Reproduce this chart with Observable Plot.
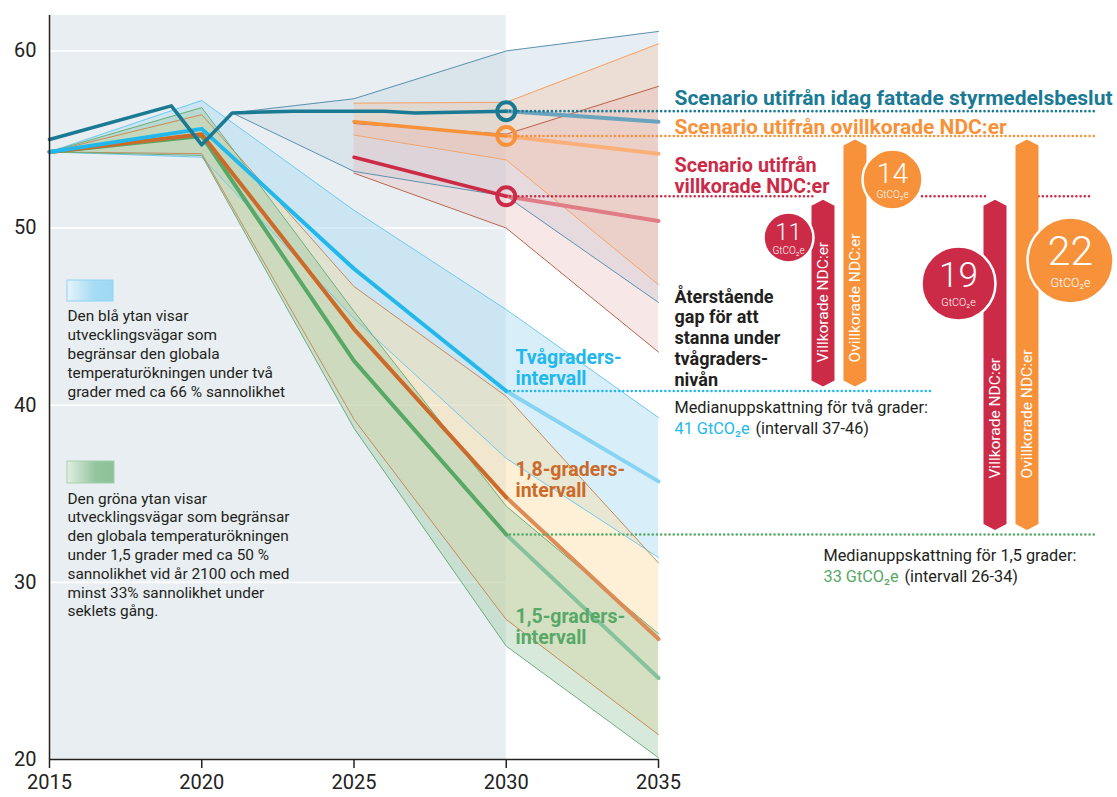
<!DOCTYPE html>
<html><head><meta charset="utf-8">
<script src="https://cdn.jsdelivr.net/npm/d3@7"></script>
<script src="https://cdn.jsdelivr.net/npm/@observablehq/plot@0.6"></script>
<style>
html,body{margin:0;padding:0;background:#fff;}
#chart{width:1117px;height:797px;}
</style></head><body><div id="chart"></div>
<script>
// ---------- data ----------
const years   = [2015, 2020, 2025, 2030, 2035];
const twoLow  = [54.3, 54.0, 44.9, 37.0, 31.4];
const twoMed  = [54.3, 55.6, 47.7, 40.8, 35.7];
const twoHigh = [54.3, 57.2, 51.0, 45.4, 39.3];
const c18Low  = [54.3, 54.2, 39.2, 27.9, 21.4];
const c18Med  = [54.3, 55.3, 44.3, 34.8, 26.8];
const c18High = [54.3, 56.4, 46.7, 40.5, 31.1];
const c15Low  = [54.3, 54.1, 38.7, 26.4, 20.1];
const c15Med  = [54.3, 55.2, 42.5, 32.7, 24.6];
const c15High = [54.3, 56.8, 45.3, 34.3, 27.1];

const policyYears  = [2015, 2019, 2020, 2021, 2023, 2026, 2027, 2030, 2035];
const policyValues = [55.0, 56.9, 54.7, 56.5, 56.6, 56.6, 56.5, 56.6, 56.0];
const policyBandYears = [2021, 2025, 2030, 2035];
const policyLow  = [56.5, 53.2, 51.8, 45.8];
const policyHigh = [56.5, 57.3, 60.0, 61.1];

const ndcYears   = [2025, 2030, 2035];
const uncondMed  = [56.0, 55.2, 54.2];
const uncondLow  = [55.25, 53.85, 46.8];
const uncondHigh = [57.05, 57.1, 60.4];
const condMed    = [54.0, 51.8, 50.4];
const condLow    = [53.1, 50.0, 43.0];
const condHigh   = [55.9, 55.3, 58.0];

const gapValues = [11, 14, 19, 22];
const gapKinds  = ["Villkorade NDC:er", "Ovillkorade NDC:er", "Villkorade NDC:er", "Ovillkorade NDC:er"];
const gapTargets = ["two", "two", "c15", "c15"];

const xTicks = [2015, 2020, 2025, 2030, 2035];
const yTicks = [20, 30, 40, 50, 60];

// ---------- layout ----------
const W = 1117, H = 797, ML = 49, MR = 459, MT = 15, MB = 38;
const X0 = 2015, X1 = 2035, Y0 = 20, Y1 = 62;
const pxX = (W - ML - MR) / (X1 - X0), pxY = (H - MT - MB) / (Y1 - Y0);
const px2x = px => X0 + (px - ML) / pxX;
const px2y = py => Y1 - (py - MT) / pxY;
const FONT = "Roboto, 'Noto Sans', sans-serif";
const C = {
  bg: "#e8eef1", teal: "#1a7a94", tealLight: "#6aa3bd", tealEdge: "#5d92ad",
  orange: "#f7923a", orangeLight: "#fbb07a", red: "#cc2b47", redLight: "#e07c86",
  blue: "#22b8ec", blueLight: "#86d3f3", blueEdge: "#6fcaf0",
  brown: "#cc6a2a", brownLight: "#dc8d57", brownEdge: "#c98a5a",
  green: "#58a867", greenLight: "#86c29c", greenEdge: "#6eae7c",
  text: "#231f20"
};
const barPx = [823, 855, 995, 1027];
const barLabelPx = [362, 362, 478, 478];
const bubblePx = [[788, 237, 25], [892, 179, 30], [958, 283, 37], [1070, 260, 43]];

// ---------- derived tables ----------
const rows = (xs, cols) => xs.map((x, i) => { const r = {x}; for (const k in cols) r[k] = cols[k][i]; return r; });
const two = rows(years, {lo: twoLow, med: twoMed, hi: twoHigh});
const c18 = rows(years, {lo: c18Low, med: c18Med, hi: c18High});
const c15 = rows(years, {lo: c15Low, med: c15Med, hi: c15High});
const pol = rows(policyYears, {v: policyValues});
const polBand = rows(policyBandYears, {lo: policyLow, hi: policyHigh});
const unc = rows(ndcYears, {lo: uncondLow, med: uncondMed, hi: uncondHigh});
const con = rows(ndcYears, {lo: condLow, med: condMed, hi: condHigh});
const upTo2030 = d => d.x <= 2030, from2030 = d => d.x >= 2030;

const v2030 = (tbl, key) => tbl.find(d => d.x === 2030)[key];
const lvlPolicy = v2030(pol, "v"), lvlUnc = v2030(unc, "med"), lvlCon = v2030(con, "med");
const lvlTwo = v2030(two, "med"), lvlC15 = v2030(c15, "med");

// gap bars (hexagon-ended) built from data tops/bottoms
const barShape = [];
const barLabels = [];
gapValues.forEach((g, i) => {
  const top = gapKinds[i].startsWith("Ovill") ? lvlUnc : lvlCon;
  const bottom = gapTargets[i] === "two" ? lvlTwo : lvlC15;
  const xc = px2x(barPx[i]), hw = 11.5 / pxX;
  const tip = 4 / pxY, sh = 6 / pxY;
  const fill = gapKinds[i].startsWith("Ovill") ? C.orange : C.red;
  [[xc - hw, bottom + tip + sh, top - tip - sh], [xc, bottom + tip, top - tip], [xc + hw, bottom + tip + sh, top - tip - sh]]
    .forEach(([x, y1, y2]) => barShape.push({id: i, x, y1, y2, fill}));
  barLabels.push({x: xc, y: px2y(barLabelPx[i]), text: gapKinds[i]});
});
const bubbles = gapValues.map((g, i) => ({
  x: px2x(bubblePx[i][0]), y: px2y(bubblePx[i][1]), r: bubblePx[i][2], value: g,
  fill: gapKinds[i].startsWith("Ovill") ? C.orange : C.red,
  ny: px2y(bubblePx[i][1] - 0.2 * bubblePx[i][2]), uy: px2y(bubblePx[i][1] + 0.52 * bubblePx[i][2]),
  nfs: 0.95 * bubblePx[i][2], ufs: Math.max(10, 0.29 * bubblePx[i][2])
}));

const dots = {strokeDasharray: "0,4.2", strokeLinecap: "round", strokeWidth: 2.6};

const chart = Plot.plot({
  width: W, height: H,
  marginLeft: ML, marginRight: MR, marginTop: MT, marginBottom: MB,
  x: {domain: [X0, X1]},
  y: {domain: [Y0, Y1]},
  r: {type: "identity"},
  style: {fontFamily: FONT, fontSize: "20px", color: C.text, background: "transparent"},
  marks: [
    // background panel + gridlines
    Plot.rect([{}], {x1: 2015, x2: 2030, y1: Y0, y2: Y1, fill: C.bg}),
    Plot.ruleY(yTicks.filter(t => t > Y0), {x1: 2015, x2: 2030, stroke: "#fff", strokeWidth: 1.6}),

    // policy and NDC uncertainty bands
    Plot.areaY(polBand, {x: "x", y1: "lo", y2: "hi", fill: "#c8d6e4", fillOpacity: 0.45}),
    Plot.areaY(unc, {x: "x", y1: "lo", y2: "hi", fill: "#f6c49a", fillOpacity: 0.35}),
    Plot.areaY(con, {x: "x", y1: "lo", y2: "hi", fill: "#e9aeae", fillOpacity: 0.3}),

    // temperature pathway bands
    Plot.areaY(two, {x: "x", y1: "lo", y2: "hi", fill: "#a9dbf5", fillOpacity: 0.45}),
    Plot.areaY(c18, {x: "x", y1: "lo", y2: "hi", fill: "#fcdc9e", fillOpacity: 0.42}),
    Plot.areaY(c15, {x: "x", y1: "lo", y2: "hi", fill: "#9dcaa6", fillOpacity: 0.42}),

    // band edges
    ...[[two, C.blueEdge], [c18, C.brownEdge], [c15, C.greenEdge]].flatMap(([t, c]) => [
      Plot.line(t, {x: "x", y: "lo", stroke: c, strokeWidth: 1}),
      Plot.line(t, {x: "x", y: "hi", stroke: c, strokeWidth: 1})
    ]),
    Plot.line(polBand, {x: "x", y: "lo", stroke: C.tealEdge, strokeWidth: 1}),
    Plot.line(polBand, {x: "x", y: "hi", stroke: C.tealEdge, strokeWidth: 1}),
    Plot.line(unc, {x: "x", y: "lo", stroke: "#f4a368", strokeWidth: 1}),
    Plot.line(unc, {x: "x", y: "hi", stroke: "#f4a368", strokeWidth: 1}),
    Plot.line(con, {x: "x", y: "lo", stroke: "#b9644e", strokeWidth: 1}),
    Plot.line(con, {x: "x", y: "hi", stroke: "#b9644e", strokeWidth: 1}),

    // medians
    ...[[c15, C.green, C.greenLight], [c18, C.brown, C.brownLight], [two, C.blue, C.blueLight]].flatMap(([t, c, cl]) => [
      Plot.line(t, {filter: from2030, x: "x", y: "med", stroke: cl, strokeWidth: 4}),
      Plot.line(t, {filter: upTo2030, x: "x", y: "med", stroke: c, strokeWidth: 4})
    ]),
    Plot.line(con, {filter: from2030, x: "x", y: "med", stroke: C.redLight, strokeWidth: 4}),
    Plot.line(con, {filter: upTo2030, x: "x", y: "med", stroke: C.red, strokeWidth: 3.5}),
    Plot.line(unc, {filter: from2030, x: "x", y: "med", stroke: C.orangeLight, strokeWidth: 4}),
    Plot.line(unc, {filter: upTo2030, x: "x", y: "med", stroke: C.orange, strokeWidth: 3.5}),
    Plot.line(pol, {filter: from2030, x: "x", y: "v", stroke: C.tealLight, strokeWidth: 4}),
    Plot.line(pol, {filter: upTo2030, x: "x", y: "v", stroke: C.teal, strokeWidth: 3.5}),

    // dotted reference lines
    Plot.ruleY([lvlPolicy], {x1: 2030, x2: px2x(1097), stroke: C.teal, ...dots}),
    Plot.ruleY([lvlUnc], {x1: 2030, x2: px2x(1097), stroke: C.orange, ...dots}),
    Plot.ruleY([[2030, px2x(815)], [px2x(922), px2x(988)], [px2x(1026), px2x(1093)]],
      {y: () => lvlCon, x1: d => d[0], x2: d => d[1], stroke: C.red, ...dots}),
    Plot.ruleY([lvlTwo], {x1: 2030, x2: px2x(930), stroke: C.blue, ...dots}),
    Plot.ruleY([lvlC15], {x1: 2030, x2: px2x(1097), stroke: C.green, ...dots}),

    // 2030 markers
    Plot.dot([[2030, lvlPolicy, C.teal], [2030, lvlUnc, C.orange], [2030, lvlCon, C.red]],
      {x: d => d[0], y: d => d[1], stroke: d => d[2], r: 9, strokeWidth: 4, fill: "none"}),

    // axes
    Plot.ruleX([2015], {stroke: "#222", strokeWidth: 1.5}),
    Plot.ruleY([Y0], {x1: 2015, x2: 2035, stroke: "#222", strokeWidth: 1.5}),
    Plot.axisY(yTicks, {tickSize: 0, tickPadding: 13, fontSize: 20, label: null, fill: "#222"}),
    Plot.axisX(xTicks, {tickSize: 9, tickPadding: 6, fontSize: 20, label: null, tickFormat: d => String(d), stroke: "#222", fill: "#222", strokeWidth: 1.5}),

    // legend swatches and descriptions
    Plot.rect([{}], {x1: px2x(67), x2: px2x(113), y1: px2y(301), y2: px2y(280), fill: "url(#gBlue)", stroke: "#8fd3f2", strokeWidth: 1}),
    Plot.rect([{}], {x1: px2x(67), x2: px2x(114), y1: px2y(483), y2: px2y(461), fill: "url(#gGreen)", stroke: "#a6cfae", strokeWidth: 1}),
    Plot.text(["Den blå ytan visar\nutvecklingsvägar som\nbegränsar den globala\ntemperaturökningen under två\ngrader med ca 66 % sannolikhet"],
      {x: px2x(67), y: px2y(352.5), textAnchor: "start", fontSize: 15.4, lineHeight: 1.22, fill: C.text}),
    Plot.text(["Den gröna ytan visar\nutvecklingsvägar som begränsar\nden globala temperaturökningen\nunder 1,5 grader med ca 50 %\nsannolikhet vid år 2100 och med\nminst 33% sannolikhet under\nseklets gång."],
      {x: px2x(67), y: px2y(553.5), textAnchor: "start", fontSize: 15.4, lineHeight: 1.22, fill: C.text}),

    // pathway labels
    Plot.text(["Tvågraders-\nintervall"], {x: px2x(515), y: px2y(367), textAnchor: "start", fontSize: 19.5, fontWeight: 700, lineHeight: 1.08, fill: C.blue}),
    Plot.text(["1,8-graders-\nintervall"], {x: px2x(515), y: px2y(479), textAnchor: "start", fontSize: 19.5, fontWeight: 700, lineHeight: 1.08, fill: C.brown}),
    Plot.text(["1,5-graders-\nintervall"], {x: px2x(515), y: px2y(626), textAnchor: "start", fontSize: 19.5, fontWeight: 700, lineHeight: 1.08, fill: C.green}),

    // scenario labels
    Plot.text(["Scenario utifrån idag fattade styrmedelsbeslut"], {x: px2x(674), y: px2y(98), textAnchor: "start", fontSize: 21, fontWeight: 700, fill: C.teal}),
    Plot.text(["Scenario utifrån ovillkorade NDC:er"], {x: px2x(674), y: px2y(127), textAnchor: "start", fontSize: 21, fontWeight: 700, fill: C.orange}),
    Plot.text(["Scenario utifrån\nvillkorade NDC:er"], {x: px2x(674), y: px2y(175), textAnchor: "start", fontSize: 19.8, fontWeight: 700, lineHeight: 1.1, fill: C.red}),

    Plot.text(["Återstående\ngap för att\nstanna under\ntvågraders-\nnivån"], {x: px2x(674), y: px2y(337), textAnchor: "start", fontSize: 18, fontWeight: 700, lineHeight: 1.15, fill: C.text}),

    Plot.text(["Medianuppskattning för två grader:"], {x: px2x(674), y: px2y(407), textAnchor: "start", fontSize: 16.3, fill: C.text}),
    Plot.text([`${Math.round(lvlTwo)} GtCO₂e`], {x: px2x(674), y: px2y(428), textAnchor: "start", fontSize: 16.3, fill: C.blue}),
    Plot.text(["(intervall 37-46)"], {x: px2x(755), y: px2y(428), textAnchor: "start", fontSize: 16.3, fill: C.text}),
    Plot.text(["Medianuppskattning för 1,5 grader:"], {x: px2x(823), y: px2y(555), textAnchor: "start", fontSize: 16.3, fill: C.text}),
    Plot.text([`${Math.round(lvlC15)} GtCO₂e`], {x: px2x(823), y: px2y(576), textAnchor: "start", fontSize: 16.3, fill: C.green}),
    Plot.text(["(intervall 26-34)"], {x: px2x(904), y: px2y(576), textAnchor: "start", fontSize: 16.3, fill: C.text}),

    // gap bars
    Plot.areaY(barShape, {x: "x", y1: "y1", y2: "y2", z: "id", fill: "fill", curve: "linear"}),
    Plot.text(barLabels, {x: "x", y: "y", text: "text", rotate: -90, textAnchor: "start", fontSize: 15.5, fill: "#fff"}),

    // gap bubbles
    Plot.dot(bubbles, {x: "x", y: "y", r: "r", fill: "fill", stroke: "#fff", strokeWidth: 2.5}),
    Plot.text(bubbles, {x: "x", y: "ny", text: d => String(d.value), fontSize: "nfs", fontWeight: 300, fill: "#fff"}),
    Plot.text(bubbles, {x: "x", y: "uy", text: () => "GtCO₂e", fontSize: "ufs", fontWeight: 300, fill: "#fff"})
  ]
});

const defs = `<defs>
<linearGradient id="gBlue" x1="0" x2="1" y1="0" y2="0"><stop offset="0" stop-color="#e6f4fb"/><stop offset="0.6" stop-color="#a5dbf4"/><stop offset="1" stop-color="#9fd8f3"/></linearGradient>
<linearGradient id="gGreen" x1="0" x2="1" y1="0" y2="0"><stop offset="0" stop-color="#e3eee3"/><stop offset="0.6" stop-color="#93c69e"/><stop offset="1" stop-color="#8cc298"/></linearGradient>
</defs>`;
chart.insertAdjacentHTML("afterbegin", defs);
document.getElementById("chart").appendChild(chart);
</script></body></html>
